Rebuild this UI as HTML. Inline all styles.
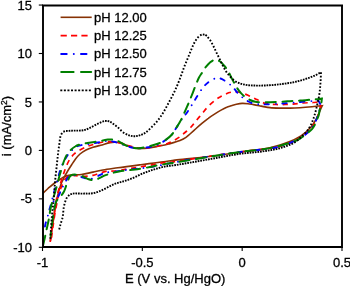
<!DOCTYPE html>
<html><head><meta charset="utf-8"><style>
html,body{margin:0;padding:0;background:#fff;}
svg{display:block;will-change:transform;}
text{font-family:"Liberation Sans",sans-serif;font-size:13px;fill:#000;stroke:#000;stroke-width:0.3px;}
</style></head><body>
<svg width="350" height="286" viewBox="0 0 350 286">
<defs><clipPath id="pc"><rect x="43" y="5" width="299" height="242"/></clipPath></defs>
<g clip-path="url(#pc)">
<path d="M50.4,241.0 C51.3,234.7 52.1,228.2 53.0,222.0 C53.8,216.2 54.6,209.9 55.5,205.0 C56.2,201.2 57.1,197.9 57.8,195.0 C58.4,192.7 58.8,190.9 59.5,188.8 C60.2,186.5 61.1,183.9 62.0,181.8 C62.8,179.9 63.7,178.3 64.6,176.5 C65.6,174.7 66.6,172.9 67.7,171.0 C68.9,169.0 70.2,167.0 71.5,165.0 C72.8,163.0 74.1,160.9 75.5,159.0 C76.9,157.2 78.3,155.5 80.0,154.0 C81.8,152.5 83.9,151.1 86.0,150.0 C88.2,148.9 90.6,148.1 93.0,147.3 C95.5,146.5 98.0,145.9 100.7,145.2 C103.7,144.4 107.3,143.1 110.0,142.6 C112.1,142.3 113.8,142.2 115.7,142.3 C117.6,142.4 119.5,142.6 121.4,143.1 C123.3,143.6 125.2,144.9 127.1,145.6 C129.0,146.3 131.0,147.0 132.9,147.5 C134.8,148.0 136.7,148.5 138.6,148.6 C140.5,148.7 142.4,148.5 144.3,148.4 C146.2,148.3 148.0,148.1 150.0,147.8 C152.2,147.5 154.5,147.0 157.1,146.5 C160.5,145.8 164.8,145.0 168.6,144.0 C172.4,143.0 176.9,141.9 180.0,140.6 C182.4,139.6 184.3,138.6 186.0,137.4 C187.5,136.4 188.5,135.3 190.0,134.0 C191.8,132.4 194.1,130.3 196.1,128.5 C198.1,126.7 200.2,124.9 202.2,123.2 C204.2,121.5 206.2,119.8 208.3,118.3 C210.3,116.8 212.4,115.4 214.5,114.1 C216.5,112.8 218.5,111.5 220.6,110.4 C222.6,109.3 224.8,108.1 226.7,107.3 C228.2,106.6 229.5,106.3 231.0,105.8 C232.7,105.3 234.6,104.7 236.4,104.3 C238.3,103.9 240.2,103.5 242.1,103.4 C244.0,103.3 246.0,103.5 247.9,103.7 C249.8,103.9 251.7,104.3 253.6,104.6 C255.5,104.9 257.4,105.3 259.3,105.7 C261.2,106.1 263.2,106.6 265.0,106.9 C266.7,107.2 268.0,107.4 270.0,107.6 C272.8,107.9 276.7,108.0 280.0,108.1 C283.3,108.2 286.7,108.1 290.0,108.1 C293.3,108.1 296.5,108.0 300.0,107.8 C303.8,107.6 308.2,107.2 312.0,106.8 C315.6,106.5 318.9,106.1 322.3,105.7 C321.8,106.7 321.5,107.3 320.9,108.6 C319.9,110.8 318.3,115.1 316.7,118.1 C315.1,121.0 313.8,123.8 311.5,126.5 C308.8,129.7 304.7,133.4 301.0,135.9 C297.6,138.2 294.0,139.7 290.5,141.2 C287.0,142.7 284.0,143.7 280.0,144.9 C275.0,146.4 268.2,148.1 262.9,149.0 C258.3,149.8 254.0,150.0 250.0,150.5 C246.5,151.0 244.3,151.4 240.0,152.0 C231.9,153.2 216.2,155.6 205.0,157.0 C194.6,158.3 182.6,159.2 175.0,160.1 C170.3,160.7 168.1,161.1 163.6,161.7 C157.3,162.6 148.3,163.7 140.7,164.7 C133.1,165.7 124.7,166.8 117.9,167.8 C112.4,168.6 107.4,169.2 102.9,170.0 C99.2,170.7 96.3,171.4 92.9,172.1 C89.2,172.9 85.1,174.0 81.4,174.5 C78.1,174.9 74.8,174.6 72.0,174.9 C69.8,175.2 67.7,175.6 66.0,176.1 C64.7,176.5 63.7,176.9 62.5,177.6 C61.1,178.4 59.7,179.6 58.3,180.5 C57.0,181.4 56.0,182.0 54.6,183.0 C52.7,184.4 50.1,186.7 48.0,188.5 C46.1,190.2 44.2,192.0 42.5,193.6 C40.9,195.1 39.5,196.5 38.0,198.0" fill="none" stroke="rgb(135,50,5)" stroke-width="1.6"/>
<path d="M50.2,242.0 C50.8,237.3 51.3,232.5 52.0,228.0 C52.6,223.8 53.5,219.9 54.1,216.0 C54.7,212.3 55.0,208.7 55.6,205.0 C56.2,201.3 56.7,197.4 57.5,194.0 C58.2,191.1 59.2,188.4 59.9,185.9 C60.5,183.7 61.0,181.7 61.6,179.7 C62.1,177.9 62.7,176.3 63.3,174.5 C64.0,172.6 64.7,170.5 65.5,168.5 C66.3,166.5 67.1,164.4 68.0,162.5 C68.9,160.7 69.9,159.0 71.0,157.5 C72.1,156.1 73.2,154.8 74.5,153.7 C75.7,152.6 77.0,151.7 78.5,150.8 C80.4,149.7 82.8,148.5 85.0,147.5 C87.2,146.5 89.0,145.8 91.6,145.0 C95.3,143.9 100.8,142.1 105.3,141.7 C109.7,141.3 114.1,141.8 118.3,142.6 C122.3,143.3 126.1,145.1 129.7,146.0 C132.9,146.8 135.5,147.9 138.9,148.1 C143.0,148.4 148.1,147.7 152.6,147.0 C157.2,146.3 162.8,145.2 166.3,144.0 C168.7,143.2 170.0,142.5 172.0,141.5 C174.3,140.3 177.2,138.7 179.4,137.1 C181.5,135.7 183.1,134.1 185.0,132.5 C186.9,130.9 188.8,129.4 190.6,127.5 C192.5,125.5 194.2,123.1 196.1,120.8 C198.1,118.4 200.2,115.9 202.2,113.5 C204.2,111.1 206.1,108.6 208.3,106.3 C210.6,104.0 213.5,101.5 215.7,99.8 C217.3,98.6 218.6,97.8 220.0,97.0 C221.3,96.2 222.6,95.6 224.0,94.9 C225.5,94.2 227.1,93.3 228.6,92.8 C230.1,92.3 231.5,92.1 233.0,92.0 C234.6,91.9 236.3,91.8 238.0,92.0 C239.8,92.2 241.6,93.0 243.3,93.5 C244.9,94.0 246.5,94.6 248.0,95.2 C249.5,95.9 251.0,96.7 252.5,97.4 C254.0,98.1 255.3,98.8 257.0,99.6 C259.3,100.7 262.0,102.5 265.0,103.3 C268.3,104.2 272.5,104.3 276.0,104.5 C279.1,104.7 282.1,104.6 285.0,104.5 C287.7,104.4 290.2,104.3 293.0,104.1 C296.2,103.8 299.7,103.3 303.0,103.0 C306.3,102.7 310.0,102.7 313.0,102.5 C315.4,102.3 317.3,102.2 319.5,102.0 C319.8,102.8 320.4,103.5 320.5,104.5 C320.7,106.0 320.0,108.1 319.6,110.0 C319.1,112.0 318.5,114.1 317.8,116.0 C317.1,117.9 316.4,119.6 315.5,121.5 C314.4,123.7 313.2,126.2 311.5,128.3 C309.7,130.5 307.4,132.6 305.0,134.5 C302.5,136.5 299.8,138.2 296.8,139.8 C293.6,141.5 289.6,143.1 286.3,144.3 C283.4,145.4 281.2,146.2 278.0,147.0 C273.7,148.0 268.5,148.5 262.9,149.3 C256.1,150.2 248.4,150.9 240.0,152.0 C229.6,153.4 216.5,155.3 205.0,157.0 C193.8,158.6 180.3,160.9 172.0,162.0 C167.0,162.6 163.6,162.8 160.0,163.3 C157.1,163.7 155.4,164.2 152.1,164.8 C146.7,165.8 137.1,167.4 130.4,168.5 C124.7,169.4 118.9,170.5 114.4,171.0 C111.1,171.3 108.4,170.9 105.7,171.4 C103.2,171.8 100.8,172.9 98.6,173.6 C96.6,174.2 95.0,174.9 92.9,175.3 C90.3,175.8 87.1,176.3 84.3,176.4 C81.5,176.5 78.5,175.8 76.0,175.7 C73.8,175.6 71.7,175.0 70.0,175.5 C68.5,175.9 67.1,176.9 66.0,178.0 C64.7,179.3 63.9,181.2 63.0,183.0 C62.1,184.9 61.3,186.9 60.5,189.0 C59.7,191.2 58.9,193.5 58.3,196.0 C57.6,198.8 57.1,201.8 56.5,205.0 C55.8,208.5 55.1,212.1 54.5,216.0 C53.8,220.4 53.0,226.0 52.5,230.0 C52.1,233.0 51.8,235.3 51.5,238.0" fill="none" stroke="#ff0000" stroke-width="1.7" stroke-dasharray="5.2 4.7"/>
<path d="M45.0,226.5 C45.1,225.7 45.2,225.1 45.4,224.2 C45.8,222.6 46.7,220.0 47.3,217.9 C47.8,215.9 48.2,214.2 48.7,212.1 C49.4,209.6 50.2,206.8 51.0,204.0 C51.8,200.8 52.7,197.0 53.5,194.0 C54.2,191.5 54.9,189.1 55.5,187.0 C56.0,185.2 56.5,183.7 57.0,182.0 C57.5,180.1 58.0,178.0 58.5,176.0 C59.1,174.0 59.6,172.0 60.3,170.0 C61.0,168.0 61.7,165.9 62.6,164.0 C63.5,162.1 64.5,160.2 65.5,158.5 C66.5,156.9 67.4,155.4 68.5,154.0 C69.7,152.5 71.0,151.1 72.4,149.8 C73.8,148.5 75.4,147.1 77.1,146.3 C78.6,145.6 80.3,145.3 82.0,145.0 C83.9,144.6 85.7,144.5 88.0,144.2 C90.9,143.8 95.0,143.1 98.0,142.5 C100.4,142.0 102.2,141.2 104.6,141.0 C107.4,140.8 110.5,141.1 113.7,141.7 C117.3,142.4 121.4,144.4 125.0,145.5 C128.2,146.5 131.4,147.6 134.3,148.0 C136.7,148.4 138.4,148.4 141.1,148.2 C144.9,147.9 151.3,146.9 154.9,145.8 C157.4,145.0 159.1,144.0 161.1,142.9 C163.1,141.8 165.3,140.3 167.0,139.0 C168.5,137.9 169.7,136.9 171.0,135.5 C172.6,133.7 174.2,131.1 175.7,128.8 C177.2,126.6 178.5,124.2 180.0,122.0 C181.5,119.7 183.5,117.1 184.9,115.3 C185.9,114.0 186.6,113.2 187.4,112.0 C188.4,110.6 189.3,109.1 190.3,107.5 C191.3,105.9 192.3,104.2 193.4,102.4 C194.6,100.5 195.8,98.4 197.0,96.5 C198.2,94.6 199.3,92.7 200.5,91.0 C201.6,89.3 202.7,87.8 204.0,86.3 C205.4,84.8 207.0,83.3 208.6,82.1 C210.2,80.9 211.9,79.6 213.7,79.0 C215.5,78.4 217.6,77.9 219.4,78.2 C221.2,78.5 222.9,79.6 224.6,80.6 C226.4,81.6 228.1,82.9 229.7,84.2 C231.3,85.6 232.9,87.2 234.3,88.8 C235.7,90.4 236.8,92.2 238.2,93.7 C239.6,95.2 241.1,96.4 242.7,97.7 C244.4,99.0 246.5,100.5 248.4,101.5 C250.2,102.5 252.1,103.3 254.0,103.8 C255.8,104.2 257.5,104.2 259.3,104.3 C261.3,104.4 262.9,104.4 265.4,104.4 C269.2,104.3 275.1,103.9 280.0,103.6 C285.0,103.3 290.0,102.9 295.0,102.5 C300.0,102.1 305.7,101.5 310.0,101.2 C313.2,100.9 315.6,100.8 318.4,100.6 C319.0,101.9 320.1,103.1 320.3,104.5 C320.6,106.1 319.9,108.1 319.5,110.0 C319.0,112.1 318.2,114.5 317.5,116.5 C316.9,118.3 316.4,119.7 315.5,121.5 C314.5,123.6 313.1,126.2 311.5,128.3 C309.7,130.6 307.6,132.8 305.2,134.7 C302.7,136.7 299.8,138.4 296.8,140.0 C293.6,141.7 289.6,143.1 286.3,144.3 C283.4,145.4 281.2,146.2 278.0,147.0 C273.7,148.0 268.5,148.5 262.9,149.3 C256.1,150.2 248.4,150.9 240.0,152.0 C229.6,153.4 216.4,155.4 205.0,157.2 C194.0,159.0 182.3,160.9 172.7,162.7 C165.1,164.1 159.2,165.7 152.1,166.8 C144.7,168.0 136.4,168.6 129.3,169.5 C123.1,170.3 116.2,171.5 112.0,172.0 C109.6,172.3 108.0,172.2 106.4,172.5 C105.1,172.8 104.2,173.1 102.9,173.6 C101.2,174.3 99.2,175.5 97.1,176.4 C94.9,177.3 92.5,178.8 90.0,179.0 C87.3,179.2 83.9,177.8 81.4,177.1 C79.4,176.6 77.7,175.8 76.0,175.5 C74.6,175.3 73.4,175.0 72.1,175.3 C70.7,175.6 69.1,176.5 68.0,177.5 C66.9,178.5 66.4,180.1 65.7,181.4 C64.9,182.7 64.2,184.1 63.5,185.5 C62.8,186.8 62.3,187.9 61.5,189.5 C60.4,191.7 59.1,195.3 57.6,197.4 C56.3,199.1 54.8,200.2 53.4,201.6" fill="none" stroke="#0000ff" stroke-width="1.9" stroke-dasharray="4.4 6.9 0 6.4" stroke-linecap="round"/>
<path d="M43.0,245.6 C43.6,243.2 44.2,240.7 44.7,238.4 C45.2,236.2 45.5,234.1 46.0,232.0 C46.5,229.9 47.0,227.8 47.5,225.6 C48.0,223.4 48.4,221.3 48.9,218.8 C49.5,215.7 49.9,211.7 50.6,208.3 C51.3,205.1 52.2,201.8 53.0,199.0 C53.7,196.5 54.4,194.5 55.1,192.2 C55.7,190.0 56.3,187.9 56.9,185.5 C57.6,182.7 58.5,179.4 59.3,176.5 C60.1,173.7 60.9,171.1 61.7,168.5 C62.5,166.0 63.1,163.4 64.0,161.0 C64.9,158.7 65.8,156.4 67.0,154.5 C68.1,152.7 69.6,151.2 71.0,149.8 C72.3,148.5 73.6,147.4 75.2,146.5 C76.8,145.5 78.6,144.9 80.7,144.3 C83.5,143.5 87.4,143.1 90.7,142.5 C94.0,142.0 97.6,141.5 100.7,141.0 C103.3,140.6 105.6,139.8 107.9,139.6 C109.9,139.4 111.9,139.3 113.7,139.6 C115.3,139.8 116.4,140.3 118.0,141.0 C120.1,141.9 122.5,144.0 125.1,145.1 C127.9,146.3 131.4,147.5 134.3,147.9 C136.7,148.3 138.5,148.2 141.1,147.9 C144.5,147.5 149.4,146.2 152.9,145.2 C155.9,144.4 158.7,143.6 161.0,142.5 C162.9,141.6 164.3,140.8 166.0,139.6 C168.0,138.2 170.4,136.4 172.0,134.5 C173.4,132.8 174.2,131.0 175.4,129.1 C176.8,126.8 178.6,124.4 180.0,121.8 C181.5,119.2 182.7,116.3 184.0,113.5 C185.4,110.6 186.7,107.5 188.0,104.5 C189.2,101.6 190.3,99.1 191.5,96.0 C192.9,92.5 194.6,87.9 196.0,84.5 C197.1,81.9 197.9,79.6 199.0,77.5 C200.0,75.6 201.3,74.0 202.4,72.2 C203.6,70.4 204.6,68.5 205.9,66.9 C207.2,65.3 208.5,63.7 210.0,62.5 C211.5,61.3 213.3,59.8 215.0,59.7 C216.7,59.6 218.6,60.5 220.1,61.5 C221.6,62.5 222.7,64.0 224.0,65.5 C225.4,67.1 226.9,68.9 228.1,70.9 C229.4,73.0 230.4,75.7 231.5,77.9 C232.5,79.9 233.5,81.7 234.5,83.5 C235.4,85.1 236.1,86.5 237.1,88.0 C238.2,89.7 239.6,91.6 241.0,93.1 C242.4,94.6 243.9,96.0 245.5,97.2 C247.0,98.3 248.5,99.2 250.1,100.0 C251.7,100.8 253.2,101.4 255.3,101.8 C258.1,102.3 261.7,102.3 265.4,102.3 C269.8,102.3 275.6,102.0 280.0,101.8 C283.6,101.6 286.7,101.4 290.0,101.2 C293.3,101.0 296.7,100.8 300.0,100.6 C303.3,100.4 307.0,100.0 310.0,99.8 C312.3,99.6 314.3,99.5 316.3,99.3 C318.2,99.1 320.0,98.8 321.9,98.6 C321.6,100.7 321.4,102.9 321.0,104.9 C320.6,106.7 320.1,108.3 319.7,110.0 C319.3,111.7 319.2,113.5 318.7,115.2 C318.2,117.0 317.2,118.8 316.5,120.5 C315.8,122.2 315.2,124.0 314.4,125.5 C313.7,126.8 313.0,128.0 312.0,129.1 C310.8,130.4 309.4,131.5 307.7,132.8 C305.6,134.5 302.7,136.8 300.3,138.3 C298.2,139.6 296.4,140.5 294.2,141.4 C291.9,142.4 289.5,143.0 286.9,143.8 C284.1,144.7 281.4,145.5 278.0,146.3 C273.6,147.3 268.5,148.4 262.9,149.3 C256.1,150.4 248.4,150.8 240.0,152.0 C229.6,153.4 216.4,155.6 205.0,157.5 C194.0,159.3 178.8,162.0 172.7,162.9 C170.3,163.3 169.7,163.3 167.7,163.6 C164.7,164.1 159.5,165.0 156.3,165.6 C153.9,166.1 152.6,166.5 150.0,167.0 C146.1,167.8 140.1,168.9 135.0,169.6 C129.8,170.3 124.2,170.4 119.0,171.4 C114.0,172.4 107.7,174.3 104.3,175.7 C102.4,176.5 101.6,177.2 100.0,177.9 C98.3,178.7 96.2,179.8 94.3,180.0 C92.4,180.2 90.3,179.8 88.6,179.3 C87.0,178.8 85.9,177.8 84.3,177.1 C82.6,176.3 80.6,175.4 78.6,175.0 C76.6,174.6 74.0,174.4 72.5,174.8 C71.4,175.1 70.7,175.6 70.0,176.4 C69.1,177.4 68.5,179.2 67.9,180.7 C67.3,182.2 66.8,183.8 66.2,185.5 C65.5,187.4 65.0,189.6 64.0,191.5 C63.0,193.4 61.7,195.1 60.4,196.7 C59.2,198.2 57.5,199.3 56.5,201.0 C55.4,202.9 55.1,205.5 54.5,208.0 C53.9,210.8 53.5,214.0 53.0,217.0 C52.6,220.0 52.2,223.3 51.8,226.0 C51.5,228.2 51.2,230.2 51.0,232.0 C50.8,233.5 50.7,234.7 50.6,236.0" fill="none" stroke="#008000" stroke-width="2" stroke-dasharray="10 6.7" stroke-linecap="round"/>
<path d="M50.34,238.85l0.11,-1.70M50.57,235.36l0.11,-1.70M50.79,231.86l0.11,-1.70M51.01,228.37l0.11,-1.70M51.24,224.88l0.12,-1.70M51.48,221.39l0.13,-1.70M51.76,217.90l0.15,-1.69M52.08,214.41l0.17,-1.69M52.44,210.93l0.19,-1.69M52.83,207.45l0.19,-1.69M53.22,203.97l0.18,-1.69M53.59,200.49l0.16,-1.69M53.91,197.01l0.14,-1.69M54.19,193.52l0.13,-1.70M54.44,190.03l0.12,-1.70M54.68,186.54l0.12,-1.70M54.94,183.05l0.14,-1.69M55.24,179.56l0.16,-1.69M55.59,176.08l0.19,-1.69M55.98,172.60l0.19,-1.69M56.38,169.12l0.18,-1.69M56.75,165.64l0.18,-1.69M57.11,162.16l0.18,-1.69M57.47,158.68l0.18,-1.69M57.86,155.20l0.20,-1.69M58.28,151.72l0.21,-1.69M58.72,148.25l0.23,-1.68M59.21,144.79l0.25,-1.68M59.65,141.32l0.20,-1.69M60.12,137.85l0.38,-1.66M61.21,134.53l0.86,-1.47M63.34,131.74l1.59,-0.60M66.02,131.00l1.70,-0.09M68.62,130.90l1.70,-0.11M71.22,130.71l1.70,-0.05M73.82,130.65l1.70,-0.01M76.42,130.63l1.70,-0.02M79.02,130.59l1.70,-0.08M81.62,130.47l1.69,-0.22M84.21,130.07l1.64,-0.46M86.78,129.25l1.57,-0.66M89.38,128.15l1.53,-0.74M91.96,126.83l1.50,-0.81M94.57,125.45l1.50,-0.80M97.17,124.06l1.51,-0.78M99.79,122.77l1.55,-0.69M102.41,121.66l1.64,-0.46M105.03,120.97l1.70,-0.11M107.63,120.96l1.65,0.43M110.21,121.74l1.46,0.88M112.73,123.44l1.38,1.00M115.32,125.34l1.34,1.04M117.89,127.38l1.28,1.12M120.37,129.79l1.20,1.20M122.92,132.19l1.35,1.03M125.64,133.99l1.56,0.67M128.26,135.04l1.61,0.53M130.87,135.87l1.67,0.31M133.49,136.27l1.70,-0.03M136.09,136.17l1.68,-0.28M138.68,135.71l1.62,-0.51M141.27,134.83l1.56,-0.68M143.85,133.65l1.49,-0.82M146.37,132.09l1.33,-1.06M148.88,129.90l1.21,-1.20M151.37,127.44l1.21,-1.19M153.86,124.97l1.17,-1.24M156.21,122.39l1.09,-1.31M158.42,119.67l1.02,-1.36M160.48,116.84l0.95,-1.41M162.40,113.91l0.89,-1.45M164.20,110.92l0.85,-1.47M165.93,107.87l0.82,-1.49M167.60,104.80l0.80,-1.50M169.25,101.71l0.80,-1.50M170.89,98.62l0.80,-1.50M172.52,95.52l0.78,-1.51M174.11,92.40l0.74,-1.53M175.61,89.24l0.69,-1.56M177.01,86.03l0.65,-1.57M178.33,82.79l0.63,-1.58M179.61,79.53l0.61,-1.59M180.87,76.27l0.58,-1.60M182.05,72.97l0.56,-1.61M183.20,69.67l0.57,-1.60M184.41,66.38l0.63,-1.58M185.72,63.14l0.66,-1.57M187.08,59.91l0.66,-1.57M188.43,56.68l0.64,-1.58M189.73,53.43l0.63,-1.58M191.04,50.19l0.67,-1.56M192.40,46.96l0.67,-1.56M193.82,43.77l0.78,-1.51M195.52,40.70l0.92,-1.43M197.50,37.82l1.18,-1.23M200.09,35.46l1.52,-0.77M202.82,34.43l1.69,0.17M205.43,34.86l1.36,1.03M207.68,37.19l1.13,1.27M209.93,39.87l0.91,1.43M211.72,42.87l0.80,1.50M213.35,45.97l0.74,1.53M214.85,49.14l0.72,1.54M216.34,52.30l0.75,1.53M217.89,55.44l0.75,1.52M219.44,58.58l0.73,1.54M220.92,61.75l0.72,1.54M222.42,64.91l0.76,1.52M224.04,68.02l0.84,1.48M225.81,71.03l0.94,1.42M227.82,73.90l1.10,1.30M230.14,76.52l1.19,1.21M232.59,79.02l1.23,1.17M235.22,81.34l1.48,0.84M237.88,82.68l1.61,0.56M240.49,83.55l1.63,0.49M243.10,84.31l1.66,0.39M245.71,84.87l1.68,0.26M248.32,85.22l1.69,0.14M250.92,85.42l1.70,0.08M253.52,85.53l1.70,0.04M256.12,85.58l1.70,0.01M258.72,85.60l1.70,-0.00M261.32,85.59l1.70,-0.03M263.92,85.53l1.70,-0.07M266.52,85.41l1.70,-0.09M269.12,85.26l1.70,-0.12M271.72,85.08l1.69,-0.14M274.32,84.86l1.69,-0.16M276.92,84.61l1.69,-0.18M279.52,84.32l1.69,-0.20M282.12,84.00l1.69,-0.22M284.72,83.66l1.69,-0.22M287.32,83.31l1.68,-0.25M289.92,82.92l1.68,-0.28M292.51,82.47l1.67,-0.34M295.11,81.92l1.65,-0.39M297.71,81.29l1.64,-0.44M300.30,80.58l1.63,-0.48M302.90,79.82l1.62,-0.50M305.50,79.00l1.61,-0.53M308.09,78.13l1.60,-0.57M310.69,77.20l1.59,-0.61M313.29,76.19l1.56,-0.68M315.88,75.04l1.51,-0.78M318.46,73.65l1.47,-0.85M320.99,72.28l-0.07,1.70M320.86,75.77l-0.07,1.70M320.71,79.27l-0.11,1.70M320.48,82.76l-0.13,1.70M320.21,86.25l-0.15,1.69M319.90,89.74l-0.18,1.69M319.50,93.22l-0.24,1.68M318.96,96.68l-0.32,1.67M318.28,100.11l-0.37,1.66M317.51,103.52l-0.38,1.66M316.72,106.93l-0.40,1.65M315.89,110.33l-0.42,1.65M315.00,113.72l-0.47,1.63M314.00,117.07l-0.56,1.60M312.81,120.36l-0.60,1.59M311.52,123.62l-0.72,1.54M309.92,126.73l-0.88,1.46M308.04,129.68l-1.01,1.37M305.89,132.44l-1.17,1.23M303.43,134.93l-1.25,1.15M300.85,137.29l-1.25,1.15M298.29,139.68l-1.28,1.11M295.62,141.85l-1.46,0.87M292.98,143.34l-1.54,0.73M290.36,144.54l-1.56,0.67M287.75,145.64l-1.60,0.58M285.14,146.55l-1.61,0.54M282.54,147.42l-1.62,0.51M279.94,148.22l-1.65,0.42M277.33,148.86l-1.66,0.36M274.73,149.40l-1.67,0.32M272.13,149.90l-1.67,0.29M269.53,150.35l-1.68,0.27M266.93,150.77l-1.68,0.26M264.33,151.17l-1.68,0.24M261.73,151.54l-1.69,0.21M259.13,151.86l-1.69,0.18M256.53,152.13l-1.69,0.15M253.93,152.37l-1.69,0.15M251.33,152.59l-1.69,0.15M248.73,152.82l-1.69,0.16M246.13,153.07l-1.69,0.18M243.53,153.35l-1.69,0.20M240.93,153.67l-1.68,0.23M238.33,154.04l-1.68,0.26M235.73,154.44l-1.68,0.28M233.13,154.87l-1.68,0.28M230.53,155.32l-1.67,0.30M227.93,155.78l-1.67,0.30M225.33,156.25l-1.67,0.31M222.73,156.74l-1.67,0.31M220.13,157.22l-1.67,0.31M217.53,157.71l-1.67,0.31M214.93,158.20l-1.67,0.31M212.33,158.68l-1.67,0.31M209.73,159.16l-1.67,0.30M207.13,159.63l-1.67,0.29M204.53,160.08l-1.67,0.29M201.93,160.53l-1.67,0.29M199.33,160.99l-1.67,0.29M196.73,161.44l-1.67,0.29M194.13,161.90l-1.67,0.29M191.53,162.35l-1.67,0.29M188.93,162.80l-1.68,0.29M186.33,163.25l-1.68,0.29M183.73,163.70l-1.68,0.28M181.13,164.14l-1.68,0.28M178.53,164.57l-1.68,0.28M175.93,165.00l-1.68,0.26M173.33,165.40l-1.68,0.25M170.73,165.77l-1.69,0.15M168.13,165.99l-1.69,0.21M165.54,166.38l-1.66,0.35M162.94,166.95l-1.65,0.41M160.34,167.60l-1.64,0.44M157.75,168.30l-1.63,0.47M155.15,169.06l-1.62,0.51M152.55,169.89l-1.61,0.54M149.95,170.77l-1.60,0.57M147.36,171.70l-1.60,0.59M144.76,172.67l-1.58,0.62M142.17,173.69l-1.57,0.65M139.58,174.79l-1.51,0.77M136.99,176.15l-1.52,0.76M134.36,177.38l-1.57,0.65M131.75,178.45l-1.59,0.61M129.15,179.45l-1.60,0.58M126.55,180.39l-1.61,0.53M123.94,181.22l-1.64,0.44M121.33,181.91l-1.64,0.43M118.74,182.59l-1.64,0.46M116.14,183.36l-1.60,0.58M113.56,184.34l-1.55,0.70M110.98,185.57l-1.50,0.79M108.39,186.95l-1.49,0.81M105.78,188.36l-1.52,0.76M103.16,189.62l-1.55,0.69M100.57,190.79l-1.56,0.67M97.96,191.88l-1.60,0.59M95.34,192.77l-1.65,0.40M92.72,193.31l-1.69,0.18M90.11,193.54l-1.70,0.04M87.51,193.58l-1.70,-0.01M84.91,193.57l-1.70,0.01M82.31,193.61l-1.70,0.00M79.71,193.57l-1.70,-0.08M77.11,193.44l-1.70,-0.03M74.51,193.42l-1.69,0.18M71.93,193.82l-1.59,0.60M69.37,194.93l-1.30,1.09M67.01,197.36l-0.78,1.51M65.57,200.54l-0.52,1.62M64.56,203.89l-0.42,1.65M63.76,207.30l-0.23,1.68M63.35,210.77l-0.14,1.69M63.05,214.26l-0.19,1.69M62.55,217.73l-0.44,1.64M61.55,221.08l-0.55,1.61M60.48,224.41l-0.44,1.64M59.61,227.80l-0.42,1.65" fill="none" stroke="#000" stroke-width="1.9"/>

</g>
<g stroke="#000" stroke-width="1.9" fill="none">
<path d="M43,5.5 V247 H342 V5.5"/>
<path d="M42,5.5 H343" stroke-width="1.8"/>
</g>
<g stroke="#000" stroke-width="1.1"><line x1="38.8" y1="5.05" x2="43" y2="5.05"/><line x1="38.8" y1="53.50" x2="43" y2="53.50"/><line x1="38.8" y1="101.95" x2="43" y2="101.95"/><line x1="38.8" y1="150.40" x2="43" y2="150.40"/><line x1="38.8" y1="198.85" x2="43" y2="198.85"/><line x1="38.8" y1="247.30" x2="43" y2="247.30"/><line x1="42.50" y1="247" x2="42.50" y2="251"/><line x1="142.33" y1="247" x2="142.33" y2="251"/><line x1="242.17" y1="247" x2="242.17" y2="251"/><line x1="342.00" y1="247" x2="342.00" y2="251"/></g>
<text x="32" y="9.65" text-anchor="end">15</text><text x="32" y="58.10" text-anchor="end">10</text><text x="32" y="106.55" text-anchor="end">5</text><text x="32" y="155.00" text-anchor="end">0</text><text x="32" y="203.45" text-anchor="end">-5</text><text x="32" y="251.90" text-anchor="end">-10</text>
<text x="42.50" y="266.6" text-anchor="middle">-1</text><text x="142.33" y="266.6" text-anchor="middle">-0.5</text><text x="242.17" y="266.6" text-anchor="middle">0</text><text x="342.00" y="266.6" text-anchor="middle">0.5</text>
<text x="175.2" y="283.1" text-anchor="middle">E (V vs. Hg/HgO)</text>
<text transform="translate(11,126) rotate(-90)" text-anchor="middle">i (mA/cm<tspan font-size="8.5" dy="-4.5">2</tspan><tspan dy="4.5">)</tspan></text>
<line x1="60.6" y1="17.3" x2="91.7" y2="17.3" fill="none" stroke="rgb(135,50,5)" stroke-width="1.6"/><text x="94" y="21.7">pH 12.00</text><line x1="60.6" y1="35.6" x2="91.5" y2="35.6" fill="none" stroke="#ff0000" stroke-width="1.7" stroke-dasharray="6.2 4.2"/><text x="94" y="40.0">pH 12.25</text><line x1="61.2" y1="53.9" x2="91.5" y2="53.9" fill="none" stroke="#0000ff" stroke-width="2" stroke-dasharray="5.5 7.1 0 7.2" stroke-linecap="round"/><text x="94" y="58.3">pH 12.50</text><line x1="61.2" y1="72.1" x2="91.2" y2="72.1" fill="none" stroke="#008000" stroke-width="2" stroke-dasharray="12.4 7.4" stroke-linecap="round"/><text x="94" y="76.5">pH 12.75</text><line x1="60.3" y1="90.4" x2="91.0" y2="90.4" fill="none" stroke="#000" stroke-width="1.9" stroke-dasharray="2 1.57"/><text x="94" y="94.8">pH 13.00</text>
</svg>
</body></html>
